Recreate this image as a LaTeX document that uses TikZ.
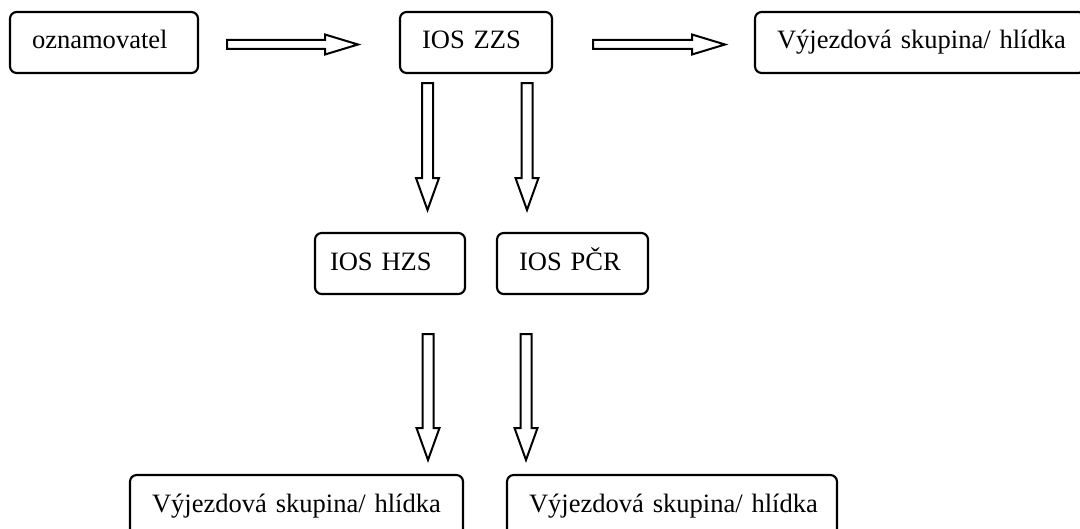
\documentclass[tikz,border=0pt]{standalone}
\usepackage{fontspec}
\setmainfont{Liberation Serif}
\begin{document}
\begin{tikzpicture}[x=0.75pt,y=-0.75pt,
  box/.style={draw,line width=1.6pt,rounded corners=5pt,inner xsep=16.5pt,inner ysep=0pt,
    minimum height=45.75pt,align=left,text height=15pt,text depth=5.25pt,
    font=\fontsize{19.9pt}{24pt}\selectfont},
  blockarrow/.style={draw,line width=1.5pt,line join=miter,fill=white}]
\clip (0,0) rectangle (1080,528);
\fill[white] (0,0) rectangle (1080,528);
% boxes
\node[box,text width=108pt]   (ozn) at (104,42.5)  {oznamovatel};
\node[box,text width=81pt]    (zzs) at (476,42.5)  {IOS ZZS};
\node[box,text width=214.5pt] (vs1) at (920,42.5)  {\mbox{Výjezdová skupina/ hlídka}};
\node[box,text width=79.5pt]  (hzs) at (390,263.5) {\hspace*{-5.25pt}IOS HZS};
\node[box,text width=80.25pt] (pcr) at (572.5,263.5) {IOS PČR};
\node[box,text width=216.75pt] (vs2) at (296.5,505.5) {\mbox{Výjezdová skupina/ hlídka}};
\node[box,text width=214.5pt] (vs3) at (672,505.5) {\mbox{Výjezdová skupina/ hlídka}};
% block arrows
\newcommand\harr[4]{\draw[blockarrow] ({#1},{#4-4.5}) -- ({#2},{#4-4.5}) -- ({#2},{#4-10}) -- ({#3},{#4}) -- ({#2},{#4+10}) -- ({#2},{#4+4.5}) -- ({#1},{#4+4.5}) -- cycle;}
\newcommand\varr[4]{\draw[blockarrow] ({#4-5.5},{#1}) -- ({#4-5.5},{#2}) -- ({#4-11.5},{#2}) -- ({#4},{#3}) -- ({#4+11.5},{#2}) -- ({#4+5.5},{#2}) -- ({#4+5.5},{#1}) -- cycle;}
\harr{227}{325}{358}{44.5}
\harr{593}{692}{725}{44.5}
\varr{83}{178}{210}{427.5}
\varr{83}{178}{210}{527}
\varr{334}{428}{460}{428}
\varr{334}{428}{460}{526}
\end{tikzpicture}
\end{document}
